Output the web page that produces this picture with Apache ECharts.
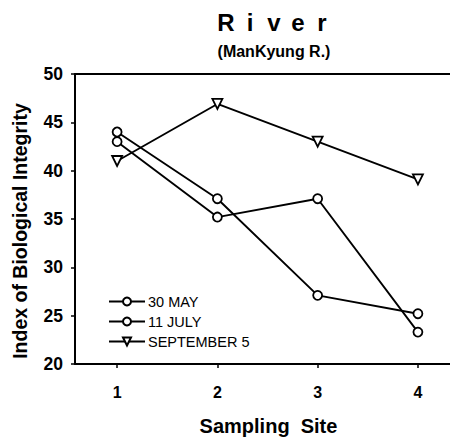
<!DOCTYPE html>
<html>
<head>
<meta charset="utf-8">
<script src="https://cdn.jsdelivr.net/npm/echarts@6/dist/echarts.min.js"></script>
<style>
  html, body { margin: 0; padding: 0; background: #fff; }
  #chart { width: 450px; height: 441px; }
</style>
</head>
<body>
<div id="chart"></div>
<script>
// 数据 -- Sampling Site / IBI
const sites = [1, 2, 3, 4];
const may30 = [44, 37.1, 27.1, 25.2];
const july11 = [43, 35.2, 37.1, 23.3];
const sep5 = [41, 46.9, 43, 39.1];
const yTicks = [20, 25, 30, 35, 40, 45, 50];
const titleLetters = ['R', 'i', 'v', 'e', 'r'];

const font = 'Arial, "Liberation Sans", sans-serif';
var chart = echarts.init(document.getElementById('chart'), null, { renderer: 'svg' });

function pairs(vals) {
  return sites.map(function (s, i) { return [s, vals[i]]; });
}

function lineSeries(name, vals, symbol, rotate) {
  return {
    name: name,
    type: 'line',
    data: pairs(vals),
    symbol: symbol,
    symbolSize: symbol === 'circle' ? 9 : 10,
    symbolRotate: rotate,
    lineStyle: { color: '#000', width: 1.9 },
    itemStyle: { color: '#fff', borderColor: '#000', borderWidth: 1.8 },
    emphasis: { disabled: true },
    animation: false
  };
}

var option = {
  backgroundColor: '#fff',
  title: {
    text: titleLetters.map(function (c) { return '{a|' + c + '}'; }).join(''),
    subtext: '(ManKyung R.)',
    left: 269,
    top: 5,
    textAlign: 'center',
    itemGap: 9,
    textStyle: {
      rich: {
        a: { fontSize: 24, fontWeight: 'bold', fontFamily: font, color: '#000', width: 24, align: 'center' }
      }
    },
    subtextStyle: { fontSize: 16, fontWeight: 'bold', fontFamily: font, color: '#000' }
  },
  legend: {
    orient: 'vertical',
    left: 103,
    top: 289,
    itemWidth: 36,
    itemHeight: 10,
    itemGap: 5,
    data: ['30 MAY', '11 JULY', 'SEPTEMBER 5'],
    textStyle: { fontSize: 14.5, fontFamily: font, color: '#000', padding: [0, 0, 0, -2] }
  },
  grid: { left: 75, right: 0, top: 74, bottom: 74 },
  xAxis: [
    {
      type: 'value',
      min: 0.58,
      max: 4.32,
      name: 'Sampling  Site',
      nameLocation: 'middle',
      nameGap: 52,
      nameTextStyle: { fontSize: 20, fontWeight: 'bold', fontFamily: font, color: '#000', padding: [0, 0, 0, 12] },
      axisLine: { lineStyle: { color: '#000', width: 2 } },
      axisTick: { customValues: sites, length: 4, lineStyle: { color: '#000', width: 1.5 } },
      axisLabel: { customValues: sites, margin: 20, fontSize: 16, fontWeight: 'bold', fontFamily: font, color: '#000' },
      splitLine: { show: false }
    },
    {
      // 上边框
      type: 'value',
      position: 'top',
      min: 0.58,
      max: 4.32,
      axisLine: { lineStyle: { color: '#000', width: 2 } },
      axisTick: { show: false },
      axisLabel: { show: false },
      splitLine: { show: false }
    }
  ],
  yAxis: {
    type: 'value',
    min: 20,
    max: 50,
    interval: 5,
    name: 'Index of Biological Integrity',
    nameLocation: 'middle',
    nameGap: 45,
    nameRotate: 90,
    nameTextStyle: { fontSize: 19.5, fontWeight: 'bold', fontFamily: font, color: '#000', padding: [0, 0, 0, -24] },
    axisLine: { show: true, lineStyle: { color: '#000', width: 2 } },
    axisTick: { show: true, length: 4, lineStyle: { color: '#000', width: 1.5 } },
    axisLabel: {
      margin: 12,
      fontSize: 17.5,
      fontWeight: 'bold',
      fontFamily: font,
      color: '#000',
      formatter: function (v) { return yTicks.indexOf(v) >= 0 ? String(v) : ''; }
    },
    splitLine: { show: false }
  },
  series: [
    lineSeries('30 MAY', may30, 'circle', 0),
    lineSeries('11 JULY', july11, 'circle', 0),
    lineSeries('SEPTEMBER 5', sep5, 'triangle', 180)
  ]
};

chart.setOption(option);
</script>
</body>
</html>
